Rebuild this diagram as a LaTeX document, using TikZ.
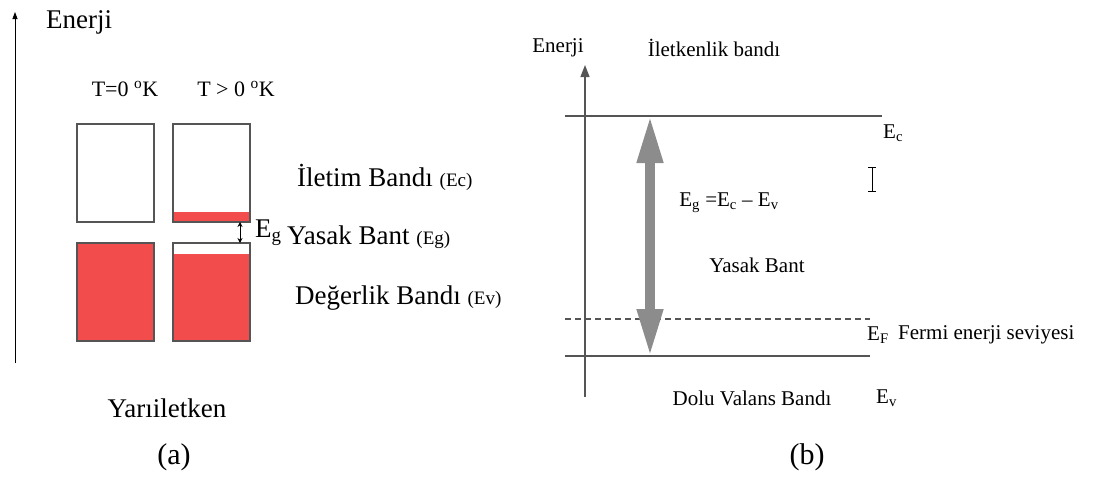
\documentclass[tikz,border=0pt]{standalone}
\usepackage{fontspec}
\setmainfont{Liberation Serif}
\usetikzlibrary{arrows.meta}
\definecolor{bandred}{RGB}{242,76,76}
\definecolor{bandgray}{RGB}{85,85,85}
\definecolor{gaparrow}{RGB}{140,140,140}
\newcommand{\fs}[1]{\fontsize{#1}{#1}\selectfont}
\begin{document}
\begin{tikzpicture}[x=1pt,y=-1pt,
    bandbox/.style={draw=bandgray, line width=1.4pt},
    lbig/.style={inner sep=0pt, font=\fs{27}},
    lsmall/.style={inner sep=0pt, font=\fs{21}},
    level/.style={draw=bandgray, line width=1.3pt}]
    \useasboundingbox (0,0) rectangle (1103,477);

    \coordinate (axa) at (15,363);
    \coordinate (axb) at (15,12);
    \draw[line width=0.8pt, -{Triangle[length=7pt,width=5pt]}] (axa) -- (axb);
    \node[lbig, anchor=west] (enerjiA) at (46,22) {Enerji};
    \node[lbig, font=\fs{22}] (tzero) at (125,89) {T=0 \textsuperscript{o}K};
    \node[lbig, font=\fs{22}] (tpos) at (236,89) {T > 0 \textsuperscript{o}K};

    \draw[bandbox] (77,124) rectangle (154,222);
    \fill[bandred] (173,212) rectangle (250,222);
    \draw[bandbox] (173,124) rectangle (250,222);
    \fill[bandred] (77,243) rectangle (154,341);
    \draw[bandbox] (77,243) rectangle (154,341);
    \fill[bandred] (173,254) rectangle (250,341);
    \draw[bandbox] (173,243) rectangle (250,341);

    \coordinate (gapt) at (240,222);
    \coordinate (gapb) at (240,243);
    \draw[line width=0.9pt, {Stealth[length=5pt,width=5pt]}-{Stealth[length=5pt,width=5pt]}] (gapt) -- (gapb);
    \node[lbig, anchor=west] (egA) at (255,233) {E\textsubscript{g}};

    \node[lbig, anchor=west] (iletim) at (297,177) {İletim Bandı {\fs{19}(Ec)}};
    \node[lbig, anchor=west] (yasakA) at (287,237) {Yasak Bant {\fs{19}(Eg)}};
    \node[lbig, anchor=west] (degerlik) at (295,298) {Değerlik Bandı {\fs{19}(Ev)}};
    \node[lbig] (yari) at (167,408) {Yarıiletken};
    \node[lbig, font=\fs{30}] (capa) at (174,457) {(a)};

    \coordinate (axc) at (585,397);
    \coordinate (axd) at (585,65);
    \draw[line width=1.3pt, draw=bandgray, -{Triangle[length=12pt,width=9pt]}] (axc) -- (axd);
    \node[lsmall] (enerjiB) at (558,48) {Enerji};
    \node[lsmall] (iletken) at (714,48) {İletkenlik bandı};

    \coordinate (ecl) at (565,116);
    \coordinate (ecr) at (882,116);
    \draw[level] (ecl) -- (ecr);
    \node[lsmall, anchor=west] (ec) at (883,133) {E\textsubscript{c}};
    \draw[line width=1pt] (868,167) -- (876,167) (872,167) -- (872,191) (868,191) -- (876,191);

    \coordinate (efl) at (565,319);
    \coordinate (efr) at (870,319);
    \draw[level, dash pattern=on 6pt off 4pt] (efl) -- (efr);
    \node[lsmall, anchor=west] (ef) at (867,335) {E\textsubscript{F}};
    \node[lsmall, anchor=west] (fermi) at (898,335) {Fermi enerji seviyesi};

    \coordinate (evl) at (565,356);
    \coordinate (evr) at (870,356);
    \draw[level] (evl) -- (evr);

    \coordinate (gtop) at (650,115);
    \coordinate (gbot) at (650,357);
    \draw[draw=gaparrow, line width=10pt, {Triangle[length=48pt,width=24pt]}-{Triangle[length=48pt,width=24pt]}] (gtop) -- (gbot);

    \node[lsmall] (egeq) at (729,203) {E\textsubscript{g} =E\textsubscript{c} -- E\textsubscript{v}};
    \node[lsmall] (yasakB) at (757,265) {Yasak Bant};
    \node[lsmall] (dolu) at (752,398) {Dolu Valans Bandı};
    \node[lsmall, anchor=west] (ev) at (876,398) {E\textsubscript{v}};
    \node[lbig, font=\fs{30}] (capb) at (807,457) {(b)};
\end{tikzpicture}
\end{document}
